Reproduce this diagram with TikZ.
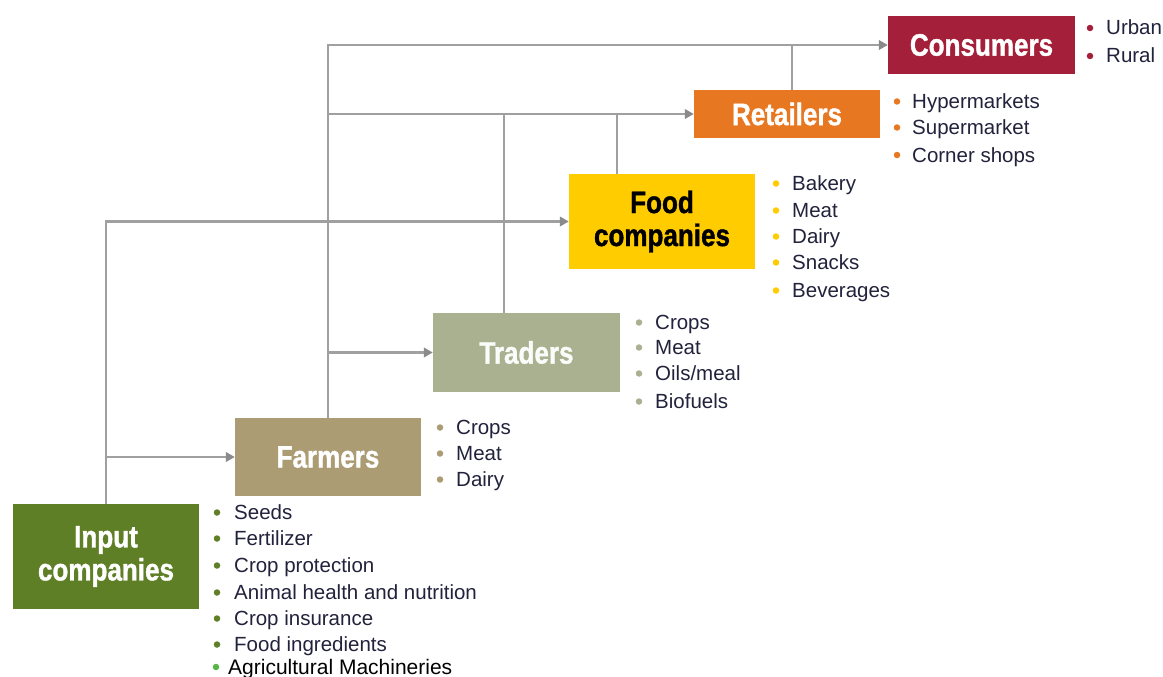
\documentclass[tikz,border=0pt]{standalone}
\usepackage{fontspec}
\setmainfont{Liberation Sans}
\newfontfamily\boxfont[FakeStretch=0.84,FakeBold=1.2]{Liberation Sans Bold}
\usetikzlibrary{arrows.meta}
\definecolor{cInput}{HTML}{5F7F27}
\definecolor{cFarm}{HTML}{AB9C74}
\definecolor{cTrade}{HTML}{A9B190}
\definecolor{cFood}{HTML}{FFCC00}
\definecolor{cRetail}{HTML}{E87722}
\definecolor{cCons}{HTML}{A4203A}
\definecolor{cLine}{HTML}{A0A0A0}
\definecolor{cTip}{HTML}{8A8A8A}
\definecolor{cText}{HTML}{22223C}
\definecolor{cLast}{HTML}{55B545}
\tikzset{
  stage/.style={draw=none, inner sep=0pt, minimum width=#1, align=center,
    font=\boxfont\fontsize{31}{33}\selectfont, text=white},
  link/.style={draw=cLine, line width=2.2pt},
  arr/.style={link, -{Triangle[length=9pt,width=9.5pt,color=cTip]}},
  item/.style={anchor=base west, inner sep=0pt, text=cText,
    font=\fontsize{20.5}{24}\selectfont},
  dot/.style={circle, fill=#1, inner sep=0pt, minimum size=6.5pt},
}
\begin{document}
\begin{tikzpicture}[x=1pt,y=-1pt]
\useasboundingbox[fill=white] (0,0) rectangle (1163,677);
% boxes
\node[stage=186pt, minimum height=105pt, fill=cInput] (input) at (106,556.5) {Input\\companies};
\node[stage=186pt, minimum height=78pt, fill=cFarm] (farmers) at (328,457) {Farmers};
\node[stage=187pt, minimum height=79pt, fill=cTrade, text=white!95!cTrade] (traders) at (526.5,352.5) {Traders};
\node[stage=186pt, minimum height=95pt, fill=cFood, text=black] (food) at (662,221.5) {Food\\companies};
\node[stage=186pt, minimum height=48pt, fill=cRetail] (retailers) at (787,114) {Retailers};
\node[stage=187pt, minimum height=58pt, fill=cCons] (consumers) at (981.5,45) {Consumers};
% connectors
\draw[arr] (input.north) |- (food.west);
\draw[arr] (input.north |- farmers.west) -- (farmers.west);
\draw[arr] (farmers.north) |- (consumers.west);
\draw[arr] (farmers.north |- retailers.west) -- (retailers.west);
\draw[arr] (farmers.north |- traders.west) -- (traders.west);
\draw[link] ([xshift=-22.5pt]traders.north) -- ([xshift=-22.5pt]traders.north |- retailers.west);
\draw[link] ([xshift=-45pt]food.north) -- ([xshift=-45pt]food.north |- retailers.west);
\draw[link] ([xshift=5pt]retailers.north) -- ([xshift=5pt]retailers.north |- consumers.west);
% lists
\foreach \t/\y [count=\i] in {Urban/35, Rural/63}{
  \node[dot=cCons] (cb\i) at (1090,\y-7) {};
  \node[item] (ct\i) at (1106,\y) {\t};}
\foreach \t/\y [count=\i] in {Hypermarkets/108.5, Supermarket/134.5, Corner shops/162}{
  \node[dot=cRetail] (rb\i) at (897,\y-7) {};
  \node[item] (rt\i) at (912,\y) {\t};}
\foreach \t/\y [count=\i] in {Bakery/190.5, Meat/217.5, Dairy/243.5, Snacks/269.5, Beverages/297.5}{
  \node[dot=cFood] (fb\i) at (776,\y-7) {};
  \node[item] (ft\i) at (792,\y) {\t};}
\foreach \t/\y [count=\i] in {Crops/329.5, Meat/354.5, {Oils/meal}/380.5, Biofuels/408.5}{
  \node[dot=cTrade] (tb\i) at (639,\y-7) {};
  \node[item] (tt\i) at (655,\y) {\t};}
\foreach \t/\y [count=\i] in {Crops/434.5, Meat/460.5, Dairy/486.5}{
  \node[dot=cFarm] (mb\i) at (440,\y-7) {};
  \node[item] (mt\i) at (456,\y) {\t};}
\foreach \t/\y [count=\i] in {Seeds/519.5, Fertilizer/545.5, Crop protection/572.5, Animal health and nutrition/599.5, Crop insurance/625.5, Food ingredients/651.5}{
  \node[dot=cInput] (ib\i) at (217,\y-7) {};
  \node[item] (it\i) at (234,\y) {\t};}
\node[dot=cLast] (ib7) at (216,667) {};
\node[item, text=black, font=\fontsize{21}{24}\selectfont] (it7) at (228,674) {Agricultural Machineries};
\end{tikzpicture}
\end{document}
